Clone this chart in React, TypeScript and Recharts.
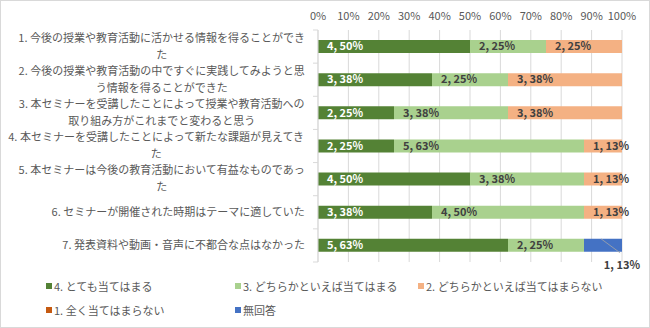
import { BarChart, Bar, XAxis, YAxis, CartesianGrid, LabelList } from 'recharts'

// Category labels, already split where Excel wraps them
const categories = [
  ['1. 今後の授業や教育活動に活かせる情報を得ることができ', 'た'],
  ['2. 今後の授業や教育活動の中ですぐに実践してみようと思', 'う情報を得ることができた'],
  ['3. 本セミナーを受講したことによって授業や教育活動への', '取り組み方がこれまでと変わると思う'],
  ['4. 本セミナーを受講したことによって新たな課題が見えてき', 'た'],
  ['5. 本セミナーは今後の教育活動において有益なものであっ', 'た'],
  ['6. セミナーが開催された時期はテーマに適していた'],
  ['7. 発表資料や動画・音声に不都合な点はなかった'],
]

// answer counts per question
const veryTrue = [4, 3, 2, 2, 4, 3, 5]
const ratherTrue = [2, 2, 3, 5, 3, 4, 2]
const ratherNot = [2, 3, 3, 1, 1, 1, 0]
const notAtAll = [0, 0, 0, 0, 0, 0, 0]
const noAnswer = [0, 0, 0, 0, 0, 0, 1]

const xTicks = [0, 0.1, 0.2, 0.3, 0.4, 0.5, 0.6, 0.7, 0.8, 0.9, 1]

const seriesNames = [
  '4. とても当てはまる',
  '3. どちらかといえば当てはまる',
  '2. どちらかといえば当てはまらない',
  '1. 全く当てはまらない',
  '無回答',
]
const seriesColors = ['#548235', '#A9D18E', '#F4B183', '#C55A11', '#4472C4']
const labelColors = ['#FFFFFF', '#404040', '#404040', '#404040', '#404040']

const FONT = '"Noto Sans CJK JP", "Noto Sans", sans-serif'
const TEXT_GRAY = '#595959'
const GRID = '#D9D9D9'
const CAT_FS = 11

const seriesValues = [veryTrue, ratherTrue, ratherNot, notAtAll, noAnswer]

const data = categories.map((lines, i) => {
  const total = seriesValues.reduce((s, arr) => s + arr[i], 0)
  const row: Record<string, any> = { name: lines.join(''), idx: i }
  seriesValues.forEach((arr, k) => {
    row[`s${k}`] = arr[i]
    row[`t${k}`] = arr[i] ? `${arr[i]}, ${Math.round((arr[i] / total) * 100)}%` : ''
  })
  return row
})

let measureCtx: CanvasRenderingContext2D | null = null
function textWidth(s: string) {
  if (!measureCtx) measureCtx = document.createElement('canvas').getContext('2d')
  if (!measureCtx) return s.length * CAT_FS
  measureCtx.font = `${CAT_FS}px ${FONT}`
  return measureCtx.measureText(s).width
}

const PLOT_TOP = 30
const PLOT_BOTTOM = 262
const BAND = (PLOT_BOTTOM - PLOT_TOP) / categories.length

function CategoryTick(props: any) {
  const { x, y, payload, index } = props
  const i = payload?.index ?? index
  const lines = categories[i] || []
  const right = x - 13
  const maxW = Math.max(...lines.map(textWidth))
  const cx = right - maxW / 2
  const lh = 17
  const startY = y - ((lines.length - 1) * lh) / 2
  return (
    <g>
      <line x1={x - 5} x2={x} y1={y - BAND / 2} y2={y - BAND / 2} stroke={GRID} />
      {i === categories.length - 1 && (
        <line x1={x - 5} x2={x} y1={y + BAND / 2} y2={y + BAND / 2} stroke={GRID} />
      )}
      {lines.map((ln, k) => (
        <text
          key={k}
          x={cx}
          y={startY + k * lh}
          dy="0.35em"
          textAnchor="middle"
          fontSize={CAT_FS}
          fill={TEXT_GRAY}
          fontFamily={FONT}
        >
          {ln}
        </text>
      ))}
    </g>
  )
}

function PctTick({ x, y, payload }: any) {
  return (
    <text x={x} y={y} dy={-4} textAnchor="middle" fontSize={11} fill={TEXT_GRAY} fontFamily={FONT}>
      {`${Math.round(payload.value * 100)}%`}
    </text>
  )
}

function makeSegLabel(color: string) {
  return (props: any) => {
    const { x, y, height, value } = props
    if (!value) return null
    return (
      <text
        x={Number(x) + 9}
        y={Number(y) + Number(height) / 2}
        dy="0.35em"
        fontSize={11}
        fontWeight="bold"
        fill={color}
        fontFamily={FONT}
      >
        {value}
      </text>
    )
  }
}

// "no answer" segment is too narrow, Excel pulls its label out with a leader line
function OutsideLabel(props: any) {
  const { x, y, width, height, value } = props
  if (!value) return null
  const bx = Number(x)
  const by = Number(y)
  const w = Number(width)
  const h = Number(height)
  return (
    <g>
      <line x1={bx + w * 0.45} y1={by} x2={bx + w * 0.95} y2={by + h + 1} stroke="#A6A6A6" strokeWidth={0.8} />
      <text
        x={bx + w + 18}
        y={by + h + 13}
        dy="0.35em"
        textAnchor="end"
        fontSize={11}
        fontWeight="bold"
        fill="#404040"
        fontFamily={FONT}
      >
        {value}
      </text>
    </g>
  )
}

export default function App() {
  return (
    <div
      style={{
        position: 'fixed',
        top: 0,
        left: 0,
        width: 650,
        height: 328,
        background: '#fff',
        fontFamily: FONT,
      }}
    >
      <BarChart
        width={650}
        height={328}
        data={data}
        layout="vertical"
        stackOffset="expand"
        margin={{ top: 0, right: 28, left: 0, bottom: 328 - PLOT_BOTTOM }}
        barSize={13}
      >
        <CartesianGrid stroke={GRID} horizontal={false} />
        <XAxis
          type="number"
          orientation="top"
          domain={[0, 1]}
          ticks={xTicks}
          height={PLOT_TOP}
          tick={<PctTick />}
          tickLine={false}
          axisLine={false}
          tickSize={0}
          tickMargin={6}
          interval={0}
        />
        <YAxis
          type="category"
          dataKey="name"
          width={318}
          tick={<CategoryTick />}
          tickLine={false}
          tickSize={0}
          tickMargin={0}
          axisLine={{ stroke: GRID }}
          interval={0}
        />
        {seriesNames.map((nm, k) => (
          <Bar
            key={nm}
            dataKey={`s${k}`}
            name={nm}
            stackId="a"
            fill={seriesColors[k]}
            isAnimationActive={false}
          >
            <LabelList
              dataKey={`t${k}`}
              content={k === 4 ? OutsideLabel : makeSegLabel(labelColors[k])}
            />
          </Bar>
        ))}
      </BarChart>

      {/* legend, laid out like Excel's two rows */}
      <div
        style={{
          position: 'absolute',
          left: 46,
          top: 278,
          width: 580,
          display: 'flex',
          flexWrap: 'wrap',
          rowGap: 8,
          fontSize: 11,
          color: TEXT_GRAY,
        }}
      >
        {seriesNames.map((nm, k) => (
          <div
            key={nm}
            style={{
              display: 'flex',
              alignItems: 'center',
              width: k % 3 === 0 ? 189 : k % 3 === 1 ? 183 : 200,
              height: 16,
            }}
          >
            <span
              style={{
                display: 'inline-block',
                width: 6,
                height: 6,
                background: seriesColors[k],
                marginRight: 2,
              }}
            />
            <span>{nm}</span>
          </div>
        ))}
      </div>
      <div
        style={{
          position: 'absolute',
          inset: 0,
          border: '1px solid #D9D9D9',
          pointerEvents: 'none',
        }}
      />
    </div>
  )
}
